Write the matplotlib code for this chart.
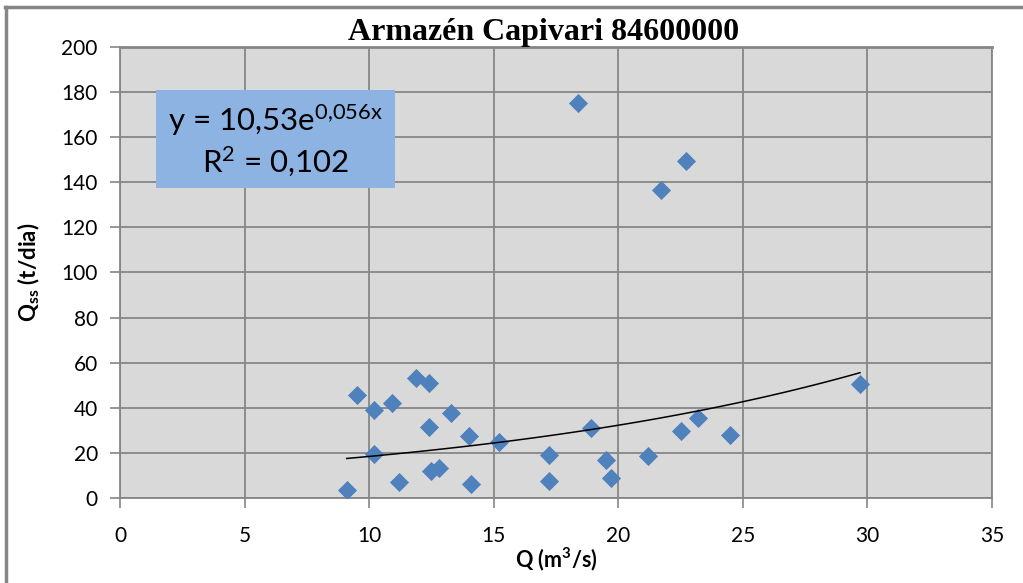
import numpy as np
import matplotlib.pyplot as plt
from matplotlib.lines import Line2D
from matplotlib.patches import Rectangle

# ── data ────────────────────────────────────────────
vazao = [9.1, 9.5, 10.2, 10.2, 10.9, 11.2, 11.9, 12.4, 12.4, 12.5, 12.8,
         13.3, 14.0, 14.1, 15.2, 17.2, 17.2, 18.4, 18.9, 19.5, 19.7,
         21.2, 21.7, 22.5, 22.7, 23.2, 24.5, 29.7]
qss = [3.5, 45.5, 39.0, 19.5, 42.0, 7.0, 53.0, 51.0, 31.5, 12.0, 13.5,
       37.5, 27.5, 6.0, 24.8, 19.0, 7.5, 175.0, 31.0, 17.0, 9.0,
       18.5, 136.5, 29.5, 149.5, 35.5, 28.0, 50.5]
coef_a = 10.53
coef_b = 0.056
r2 = 0.102

plt.rcParams["mathtext.default"] = "regular"

# ── figure ──────────────────────────────────────────
fig = plt.figure(figsize=(10.23, 5.83), dpi=100)
ax = fig.add_axes([0.1173, 0.1458, 0.8524, 0.7736])

grid_c = "#868686"
ax.set_facecolor("#D9D9D9")
ax.scatter(vazao, qss, marker="D", s=95, color="#4F81BD", zorder=3,
           linewidths=0)

# exponential trendline over the data range
xt = np.linspace(min(vazao), max(vazao), 100)
ax.plot(xt, coef_a * np.exp(coef_b * xt), color="black", lw=1.1, zorder=4)

ax.set_xlim(0, 35)
ax.set_ylim(0, 200)
ax.set_xticks(np.arange(0, 36, 5))
ax.set_yticks(np.arange(0, 201, 20))
ax.grid(True, color=grid_c, lw=1.3)
ax.set_axisbelow(True)
for s in ax.spines.values():
    s.set_color(grid_c)
    s.set_linewidth(1.3)
ax.spines["top"].set_linewidth(2)
ax.tick_params(colors=grid_c, length=7, width=1.2, labelcolor="black",
               labelsize=15)
ax.tick_params(axis="x", pad=13)
ax.tick_params(axis="y", pad=9)
for lab in ax.get_xticklabels() + ax.get_yticklabels():
    lab.set_family("Lato")

ax.set_xlabel("Q (m$^3$/s)", fontsize=15.5, fontweight="bold",
              family="Lato", labelpad=0)
ax.set_ylabel("Q$_{ss}$ (t/dia)", fontsize=16, fontweight="bold",
              family="Lato", labelpad=14)
ax.set_title("Armazén Capivari 84600000", fontsize=23, fontweight="bold",
             family="Liberation Serif", pad=3, x=0.486)

# equation box
ax.add_patch(Rectangle((0.0413, 0.687), 0.2741, 0.2177, transform=ax.transAxes,
                       fc="#8DB3E2", ec="none", zorder=5))
ax.text(0.1783, 0.8375, "y = 10,53e$^{0{,}056x}$",
        transform=ax.transAxes, ha="center", va="center", fontsize=22.5,
        family="Lato", zorder=6)
ax.text(0.1783, 0.745, f"R$^2$ = {r2:.3f}".replace(".", ","),
        transform=ax.transAxes, ha="center", va="center", fontsize=22.5,
        family="Lato", zorder=6)

# outer chart frame (top and left edges)
fig.add_artist(Line2D([5 / 1023, 1], [1 - 7 / 583, 1 - 7 / 583],
                      transform=fig.transFigure, color=grid_c, lw=2.5))
fig.add_artist(Line2D([6 / 1023, 6 / 1023], [0, 1 - 7 / 583],
                      transform=fig.transFigure, color=grid_c, lw=2.5))

fig.savefig("out.png", dpi=100)
